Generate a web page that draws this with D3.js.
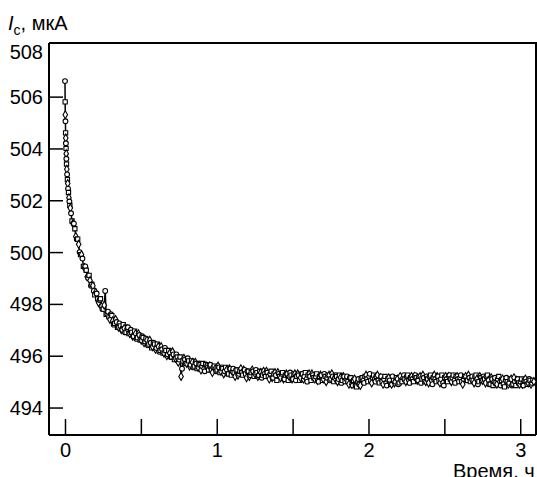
<!DOCTYPE html>
<html>
<head>
<meta charset="utf-8">
<script src="https://cdn.jsdelivr.net/npm/d3@7"></script>
<style>
  body { margin: 0; background: #fff; }
  text { font-family: "Liberation Sans", Arial, sans-serif; fill: #000; }
</style>
</head>
<body>
<svg id="chart"></svg>
<script>
var width = 537, height = 477;

// first minutes, irregular spacing (hours)
var earlyTimes = [0, 0.001, 0.002, 0.003, 0.004, 0.005, 0.006, 0.007, 0.008, 0.009,
                  0.010, 0.012, 0.014, 0.016, 0.018, 0.020, 0.023, 0.026, 0.029, 0.032, 0.035];
var earlyValues = [506.6, 505.8, 505.3, 505.05, 504.6, 504.4, 504.2, 504.0, 503.8, 503.6,
                   503.4, 503.2, 503.0, 502.8, 502.65, 502.45, 502.3, 502.1, 501.95, 501.8, 501.7];

// readings every 0.0125 h starting at 0.04 h
var mainStart = 0.04, mainStep = 0.0125;
var mainValues = [
  501.5, 501.1, 500.9, 500.5, 500.3, 499.9, 499.75, 499.4, 499.3, 499.0, 498.9, 498.75, 498.5, 498.45, 498.2, 498.15, 497.9, 497.8, 498.5, 497.6,
  497.5, 497.6, 497.35, 497.25, 497.3, 497.1, 497.15, 497.0, 497.05, 496.9, 497.1, 496.85, 496.9, 496.75, 496.85, 496.7, 496.8, 496.6, 496.7, 496.55,
  496.6, 496.45, 496.5, 496.35, 496.45, 496.3, 496.35, 496.2, 496.25, 496.1, 496.2, 496.05, 496.1, 495.95, 496.05, 495.9, 495.95, 495.85, 495.2, 495.8,
  495.85, 495.7, 495.8, 495.65, 495.75, 495.6, 495.7, 495.55, 495.65, 495.6, 495.5, 495.65, 495.55, 495.6, 495.45, 495.55, 495.5, 495.45, 495.55, 495.4,
  495.5, 495.4, 495.45, 495.3, 495.5, 495.4, 495.35, 495.45, 495.25, 495.4, 495.35, 495.45, 495.3, 495.4, 495.2, 495.35, 495.4, 495.3, 495.35, 495.25,
  495.35, 495.25, 495.3, 495.4, 495.2, 495.3, 495.15, 495.3, 495.25, 495.35, 495.2, 495.3, 495.1, 495.25, 495.3, 495.2, 495.25, 495.1, 495.3, 495.2,
  495.25, 495.15, 495.3, 495.2, 495.1, 495.25, 495.2, 495.3, 495.15, 495.2, 495.05, 495.2, 495.25, 495.1, 495.2, 495.15, 495.25, 495.1, 495.2, 495.15,
  495.2, 495.1, 495.15, 495.05, 495.2, 495.1, 495.0, 495.15, 494.9, 495.05, 494.85, 495.0, 494.9, 495.1, 495.05, 495.2, 495.1, 495.2, 495.05, 495.15,
  495.1, 495.2, 495.05, 495.15, 495.0, 495.1, 494.95, 495.1, 495.05, 494.9, 495.05, 495.0, 495.1, 494.95, 495.05, 495.15, 495.1, 495.2, 495.05, 495.15,
  495.1, 495.2, 495.15, 495.05, 495.2, 495.1, 495.15, 495.0, 495.1, 495.2, 495.05, 495.15, 495.1, 495.2, 495.05, 495.1, 494.95, 495.15, 495.1, 495.2,
  495.1, 495.15, 495.05, 495.2, 495.1, 495.15, 495.0, 495.1, 495.2, 495.05, 495.15, 495.1, 495.05, 495.2, 495.1, 495.0, 495.15, 495.05, 495.1, 495.2,
  495.05, 494.9, 495.1, 495.0, 494.95, 495.1, 495.0, 495.05, 494.9, 495.05, 495.0, 494.95, 495.1, 494.9, 495.0, 495.05, 494.95, 495.0, 494.9, 495.05,
  495.0, 494.95, 495.05, 494.95, 495.0
];

// readings in between, starting at 0.04625 h
var midStart = 0.04625;
var midValues = [
  501.2, 501.1, 500.6, 500.5, 500.0, 499.9, 499.45, 499.45, 499.05, 499.1, 498.7, 498.7, 498.35, 498.4, 498.05, 498.2, 497.8, 497.95, 497.6, 497.7,
  497.4, 497.55, 497.2, 497.4, 497.1, 497.25, 497.0, 497.2, 496.9, 497.05, 496.85, 497.0, 496.75, 496.95, 496.65, 496.85, 496.6, 496.75, 496.5, 496.65,
  496.4, 496.6, 496.3, 496.5, 496.25, 496.45, 496.15, 496.35, 496.1, 496.3, 496.0, 496.2, 495.95, 496.15, 495.85, 496.05, 495.75, 495.95, 495.5, 495.9,
  495.7, 495.9, 495.6, 495.8, 495.55, 495.75, 495.5, 495.7, 495.45, 495.7, 495.4, 495.6, 495.45, 495.65, 495.35, 495.6, 495.4, 495.6, 495.35, 495.55,
  495.3, 495.55, 495.3, 495.5, 495.25, 495.5, 495.2, 495.45, 495.3, 495.5, 495.25, 495.45, 495.15, 495.4, 495.25, 495.45, 495.2, 495.45, 495.2, 495.4,
  495.15, 495.4, 495.2, 495.35, 495.1, 495.4, 495.15, 495.35, 495.05, 495.3, 495.15, 495.35, 495.1, 495.3, 495.05, 495.35, 495.1, 495.3, 495.05, 495.3,
  495.05, 495.3, 495.1, 495.35, 495.0, 495.3, 495.05, 495.25, 495.1, 495.3, 495.0, 495.25, 495.05, 495.3, 495.0, 495.25, 495.05, 495.3, 495.0, 495.25,
  495.0, 495.25, 494.95, 495.2, 495.0, 495.2, 494.9, 495.15, 494.85, 495.1, 494.8, 495.1, 494.85, 495.15, 494.95, 495.25, 495.0, 495.3, 494.95, 495.25,
  495.0, 495.25, 494.95, 495.2, 494.9, 495.2, 494.85, 495.15, 494.9, 495.2, 494.95, 495.15, 494.9, 495.2, 495.0, 495.25, 495.0, 495.25, 494.95, 495.2,
  495.0, 495.25, 495.05, 495.2, 494.95, 495.25, 495.0, 495.2, 494.95, 495.25, 494.9, 495.25, 495.0, 495.2, 494.95, 495.25, 494.85, 495.2, 495.0, 495.25,
  495.0, 495.25, 494.95, 495.2, 495.0, 495.25, 494.9, 495.2, 495.05, 495.25, 495.0, 495.2, 494.95, 495.25, 494.9, 495.2, 495.05, 495.2, 494.95, 495.25,
  494.9, 495.15, 494.85, 495.15, 494.9, 495.2, 494.85, 495.1, 494.8, 495.15, 494.9, 495.1, 494.85, 495.15, 494.85, 495.1, 494.9, 495.1, 494.85, 495.1,
  494.9, 495.1, 494.9, 495.05
];

var yTicks = [494, 496, 498, 500, 502, 504, 506, 508];
var xTicks = [0, 0.5, 1, 1.5, 2, 2.5, 3];
var xLabels = [0, 1, 2, 3];

var data = earlyTimes.map(function(t, i) { return {t: t, v: earlyValues[i]}; })
  .concat(mainValues.map(function(v, i) { return {t: mainStart + i * mainStep, v: v}; }))
  .concat(midValues.map(function(v, i) { return {t: midStart + i * mainStep, v: v}; }))
  .sort(function(a, b) { return a.t - b.t; });

var svg = d3.select("#chart")
    .attr("width", width)
    .attr("height", height);

var x = d3.scaleLinear()
    .domain([-0.1054, 3.104])
    .range([49, 536]);

var y = d3.scaleLinear()
    .domain([492.94, 508.07])
    .range([435, 43]);

// frame: top and right edges
svg.append("path")
    .attr("d", "M49,43H536V435")
    .attr("fill", "none")
    .attr("stroke", "#000")
    .attr("stroke-width", 2);

// y axis, ticks pointing inside
var yAxis = svg.append("g")
    .attr("transform", "translate(49,0)")
    .call(d3.axisRight(y).tickValues(yTicks).tickSize(14).tickFormat(d3.format("d")));
yAxis.select(".domain").attr("d", "M0,43V435").attr("stroke-width", 2);
yAxis.selectAll(".tick line").attr("stroke-width", 1.5)
    .attr("display", function(d) { return d === 508 ? "none" : null; });
yAxis.selectAll(".tick text")
    .attr("x", -6)
    .attr("dy", function(d) { return d === 508 ? "0.7em" : "0.35em"; })
    .attr("text-anchor", "end")
    .style("font-size", "20px");

// x axis, ticks pointing up
var xAxis = svg.append("g")
    .attr("transform", "translate(0,435)")
    .call(d3.axisTop(x).tickValues(xTicks).tickSize(16)
      .tickFormat(function(d) { return xLabels.indexOf(d) >= 0 ? d : ""; }));
xAxis.select(".domain").attr("d", "M49,0H536").attr("stroke-width", 2);
xAxis.selectAll(".tick line").attr("stroke-width", 1.5);
xAxis.selectAll(".tick text")
    .attr("y", 8)
    .attr("dy", "0.71em")
    .style("font-size", "20px");

// the curve
var line = d3.line()
    .x(function(d) { return x(d.t); })
    .y(function(d) { return y(d.v); });

svg.append("path")
    .datum(data)
    .attr("d", line)
    .attr("fill", "none")
    .attr("stroke", "#000")
    .attr("stroke-width", 1.5);

var shapes = [d3.symbolCircle, d3.symbolSquare, d3.symbolDiamond];
svg.append("g")
    .selectAll("path")
    .data(data)
    .enter()
    .append("path")
      .attr("transform", function(d) { return "translate(" + x(d.t) + "," + y(d.v) + ")"; })
      .attr("d", function(d, i) { return d3.symbol().type(shapes[i % 3]).size(18)(); })
      .attr("fill", "#fff")
      .attr("stroke", "#000")
      .attr("stroke-width", 1.1);

// axis titles
var yTitle = svg.append("text")
    .attr("x", 8)
    .attr("y", 30)
    .style("font-size", "20px");
yTitle.append("tspan").style("font-style", "italic").text("I");
yTitle.append("tspan").attr("dy", 5).style("font-size", "14px").text("с");
yTitle.append("tspan").attr("dy", -5).text(", мкА");

svg.append("text")
    .attr("x", 453)
    .attr("y", 478)
    .style("font-size", "20px")
    .text("Время, ч");
</script>
</body>
</html>
